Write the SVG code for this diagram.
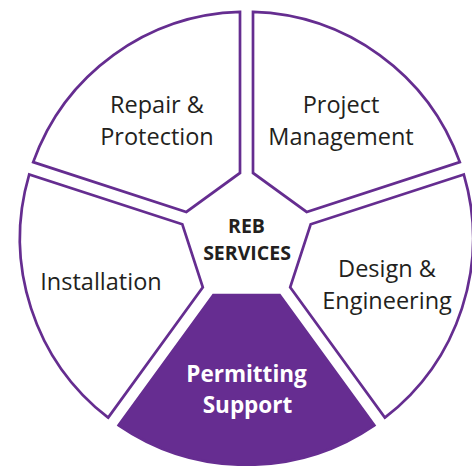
<svg xmlns="http://www.w3.org/2000/svg" width="472" height="466" viewBox="0 0 472 466">
  <defs>
    <style>
      .seg { fill: #ffffff; stroke: #652D90; stroke-width: 2.7; stroke-linejoin: miter; }
      .seg-on { fill: #662D91; stroke: #662D91; stroke-width: 2.7; stroke-linejoin: miter; }
      .lbl { font-family: "Open Sans", "Noto Sans", "Liberation Sans", sans-serif; font-size: 23.5px; fill: #231F20; text-anchor: middle; }
      .lbl-on { font-family: "Open Sans", "Noto Sans", "Liberation Sans", sans-serif; font-size: 22.5px; font-weight: 700; fill: #ffffff; text-anchor: middle; }
      .center { font-family: "Open Sans", "Noto Sans", "Liberation Sans", sans-serif; font-size: 19.5px; font-weight: 700; fill: #231F20; text-anchor: middle; }
    </style>
    <path id="segShape" d="M 186.99 -127.82 L 56.7 -33.16 L 56.7 33.16 L 186.99 127.82 A 226.5 226.5 0 0 0 186.99 -127.82 Z"/>
  </defs>
  <rect x="0" y="0" width="472" height="466" fill="#ffffff"/>

  <g id="repair-protection">
    <use href="#segShape" class="seg" transform="translate(246.5 238.3) rotate(-126)"/>
    <text class="lbl" x="157" y="112.5">Repair &amp;</text>
    <text class="lbl" x="157" y="144.5">Protection</text>
  </g>

  <g id="project-management">
    <use href="#segShape" class="seg" transform="translate(246.5 238.3) rotate(-54)"/>
    <text class="lbl" x="341" y="112.5">Project</text>
    <text class="lbl" x="341" y="144.5">Management</text>
  </g>

  <g id="design-engineering">
    <use href="#segShape" class="seg" transform="translate(246.5 238.3) rotate(18)"/>
    <text class="lbl" x="387" y="277">Design &amp;</text>
    <text class="lbl" x="387" y="308.5">Engineering</text>
  </g>

  <g id="permitting-support">
    <use href="#segShape" class="seg-on" transform="translate(246.5 238.3) rotate(90)"/>
    <text class="lbl-on" x="246.5" y="381.5">Permitting</text>
    <text class="lbl-on" x="247.5" y="412.5">Support</text>
  </g>

  <g id="installation">
    <use href="#segShape" class="seg" transform="translate(246.5 238.3) rotate(162)"/>
    <text class="lbl" x="101" y="289.5">Installation</text>
  </g>

  <g id="reb-services">
    <text class="center" x="246.5" y="233">REB</text>
    <text class="center" x="247" y="260">SERVICES</text>
  </g>
</svg>
